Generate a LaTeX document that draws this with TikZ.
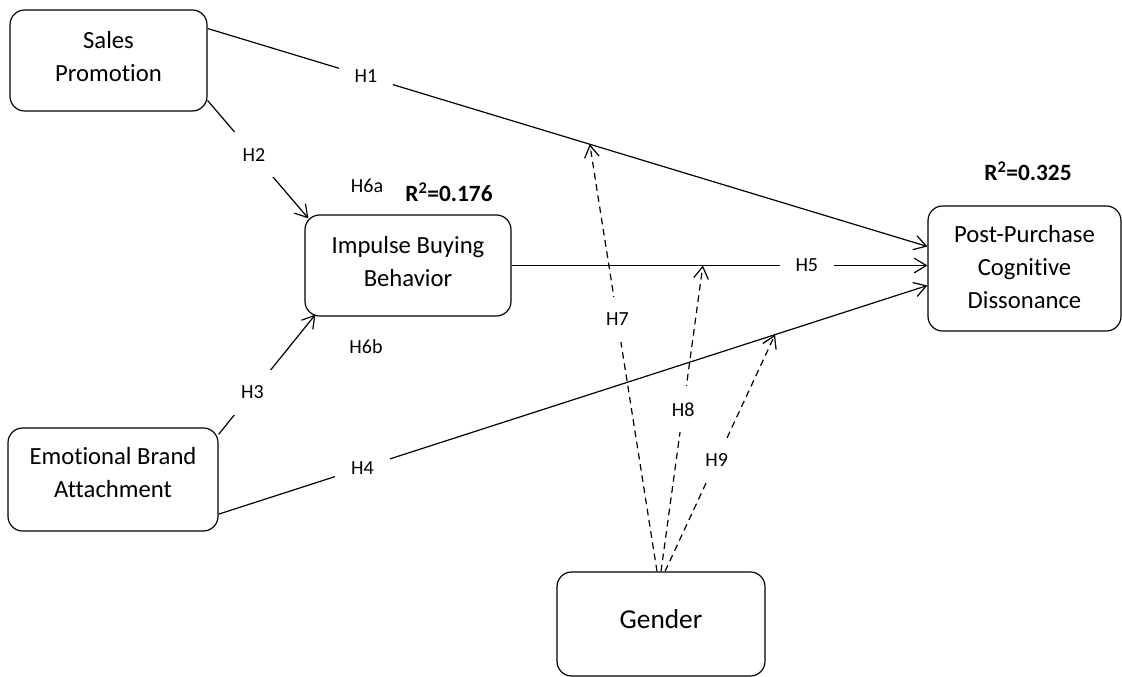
\documentclass[tikz,border=0pt]{standalone}
\usepackage{fontspec}
\setmainfont{Carlito}[Ligatures=NoCommon]
\usetikzlibrary{positioning,calc,arrows.meta}

\begin{document}
\begin{tikzpicture}[x=0.75pt,y=-0.75pt,
  construct/.style={draw,line width=0.9pt,rounded corners=11pt},
  txt/.style={align=center,font=\fontsize{18.5}{24.75}\selectfont},
  hyp/.style={line width=0.9pt,-{Straight Barb[length=9pt,width=11pt]}},
  moder/.style={hyp,dash pattern=on 5pt off 3.5pt},
  lbl/.style={fill=white,inner sep=12pt,font=\fontsize{15}{18}\selectfont},
  note/.style={font=\fontsize{15}{18}\selectfont},
  rsq/.style={font=\fontsize{17.5}{20}\selectfont\bfseries}]
\useasboundingbox (0,0) rectangle (1122,677);

% constructs
\node[construct,minimum width=147.75pt,minimum height=75.75pt,
  label={[txt,yshift=3pt]center:Sales\\Promotion}] (sp) at (108.5,60.5) {};
\node[construct,minimum width=154.5pt,minimum height=75.75pt,
  label={[txt,yshift=3pt]center:Impulse Buying\\Behavior}] (ibb) at (408,265.5) {};
\node[construct,minimum width=157.5pt,minimum height=77.25pt,
  label={[txt,yshift=5.5pt]center:Emotional Brand\\Attachment}] (eba) at (113,479.5) {};
\node[construct,minimum width=144.75pt,minimum height=93.75pt,
  label={[txt,yshift=1pt]center:Post-Purchase\\Cognitive\\Dissonance}] (ppcd) at (1024.5,268.5) {};
\node[construct,minimum width=156pt,minimum height=78pt,
  label={[txt,yshift=3.75pt,font=\fontsize{20.5}{24}\selectfont]center:Gender}] (gen) at (661,624) {};

% R squared and H6
\node[rsq] (r1) at (449,192) {R\textsuperscript{2}=0.176};
\node[rsq] (r2) at (1028,171) {R\textsuperscript{2}=0.325};
\node[note] (h6a) at (367,186) {H6a};
\node[note] (h6b) at (366,347) {H6b};

% direct paths
\draw[hyp] ([yshift=24pt]sp.east) -- node[lbl,pos=0.22] {H1} coordinate[pos=0.531] (m1) ([yshift=16.5pt]ppcd.west);
\draw[hyp] ([yshift=-30pt]sp.east) -- node[lbl,pos=0.46] {H2} ($(ibb.north west)+(4,4)$);
\draw[hyp] ($(eba.north east)+(0,7)$) -- node[lbl,pos=0.35] {H3} ($(ibb.south west)+(11,-2)$);
\draw[hyp] ([yshift=-26pt]eba.east) -- node[lbl,pos=0.203] {H4} coordinate[pos=0.785] (m3) ([yshift=-12.75pt]ppcd.west);
\draw[hyp] (ibb.east) -- node[lbl,pos=0.71] {H5} coordinate[pos=0.46] (m2) (ibb.east -| ppcd.west);

% moderation by gender
\draw[moder] ([xshift=-3pt]gen.north) -- node[lbl,pos=0.59] {H7} (m1);
\draw[moder] (gen.north) -- node[lbl,pos=0.53] {H8} (m2);
\draw[moder] ([xshift=3pt]gen.north) -- node[lbl,pos=0.47] {H9} (m3);
\end{tikzpicture}
\end{document}
